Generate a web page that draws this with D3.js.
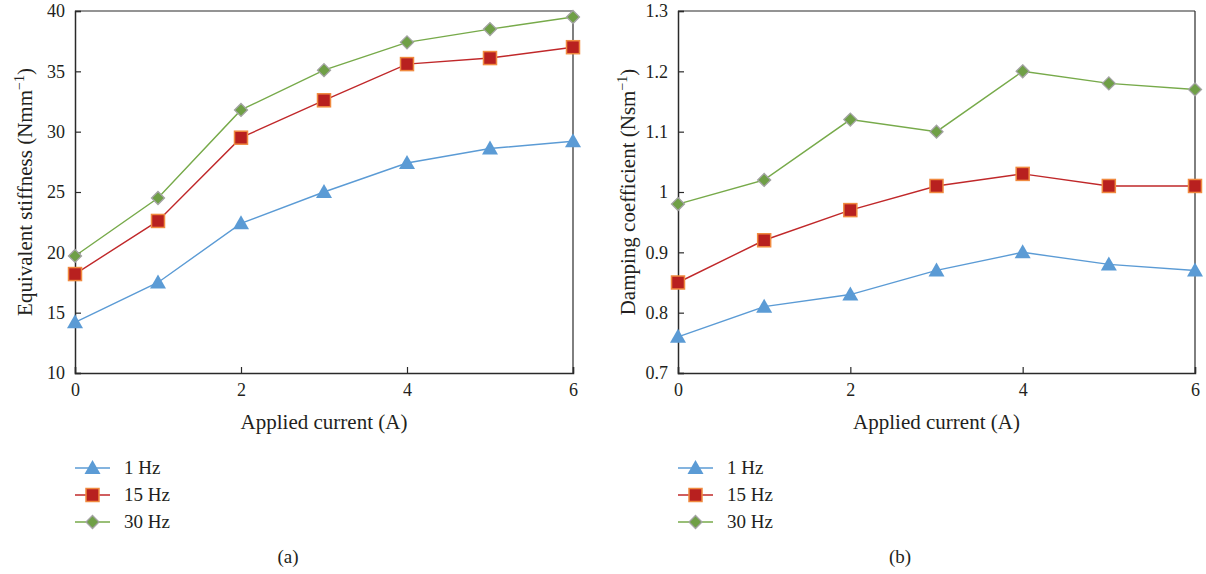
<!DOCTYPE html>
<html>
<head>
<meta charset="utf-8">
<script src="https://cdn.jsdelivr.net/npm/d3@7"></script>
<style>
  body { margin: 0; background: #fff; }
  svg text { font-family: "Liberation Serif", "DejaVu Serif", serif; fill: #231f20; }
</style>
</head>
<body>
<svg id="chart" width="1206" height="574"></svg>
<script>
// Applied current (A)
const currents = [0, 1, 2, 3, 4, 5, 6];
const seriesNames = ["1 Hz", "15 Hz", "30 Hz"];

// Equivalent stiffness (N/mm)
const stiffness1Hz  = [14.2, 17.5, 22.4, 25.0, 27.4, 28.6, 29.2];
const stiffness15Hz = [18.2, 22.6, 29.5, 32.6, 35.6, 36.1, 37.0];
const stiffness30Hz = [19.7, 24.5, 31.8, 35.1, 37.4, 38.5, 39.5];

// Damping coefficient (Ns/m)
const damping1Hz  = [0.76, 0.81, 0.83, 0.87, 0.90, 0.88, 0.87];
const damping15Hz = [0.85, 0.92, 0.97, 1.01, 1.03, 1.01, 1.01];
const damping30Hz = [0.98, 1.02, 1.12, 1.10, 1.20, 1.18, 1.17];

const xTicks = [0, 2, 4, 6];
const stiffnessTicks = [10, 15, 20, 25, 30, 35, 40];
const dampingTicks = [0.7, 0.8, 0.9, 1.0, 1.1, 1.2, 1.3];

const styles = [
  { line: "#5b9bd5", fill: "#5b9bd5", stroke: "#5b9bd5", shape: "triangle" },
  { line: "#c0282a", fill: "#b8201f", stroke: "#f08a40", shape: "square" },
  { line: "#77aa4a", fill: "#6f9f46", stroke: "#a3a3a3", shape: "diamond" }
];

const svg = d3.select("#chart");

function marker(g, shape, st, cx, cy) {
  if (shape === "triangle") {
    g.append("path")
      .attr("d", `M${cx},${cy - 8} L${cx + 8},${cy + 6} L${cx - 8},${cy + 6} Z`)
      .attr("fill", st.fill);
  } else if (shape === "square") {
    g.append("rect")
      .attr("x", cx - 6.5).attr("y", cy - 6.5)
      .attr("width", 13).attr("height", 13)
      .attr("fill", st.fill).attr("stroke", st.stroke).attr("stroke-width", 1.5);
  } else {
    g.append("path")
      .attr("d", `M${cx},${cy - 6.5} L${cx + 6.5},${cy} L${cx},${cy + 6.5} L${cx - 6.5},${cy} Z`)
      .attr("fill", st.fill).attr("stroke", st.stroke).attr("stroke-width", 1.3);
  }
}

function panel(opts) {
  const { left, right, top, bottom, yDomain, yTicks, yFormat, series, yTitle, panelLabel, legendX, labelX } = opts;
  const x = d3.scaleLinear().domain([0, 6]).range([left, right]);
  const y = d3.scaleLinear().domain(yDomain).range([bottom, top]);
  const g = svg.append("g");

  // frame: top and right edges
  g.append("line").attr("x1", left).attr("x2", right).attr("y1", top).attr("y2", top)
    .attr("stroke", "#2a2a2a").attr("stroke-width", 1.2);
  g.append("line").attr("x1", right).attr("x2", right).attr("y1", top).attr("y2", bottom)
    .attr("stroke", "#2a2a2a").attr("stroke-width", 1.2);

  // left axis with inward ticks
  const yAxis = g.append("g").attr("transform", `translate(${left},0)`)
    .call(d3.axisLeft(y).tickValues(yTicks).tickSize(-6).tickPadding(10).tickFormat(yFormat));
  yAxis.select(".domain").attr("stroke", "#2a2a2a").attr("stroke-width", 1.5);
  yAxis.selectAll(".tick line").attr("stroke", "#2a2a2a").attr("stroke-width", 1.2);
  yAxis.selectAll(".tick text").attr("font-size", 18).attr("font-family", "Liberation Serif").attr("fill", "#231f20");

  // bottom axis with inward ticks
  const xAxis = g.append("g").attr("transform", `translate(0,${bottom})`)
    .call(d3.axisBottom(x).tickValues(xTicks).tickSize(-6).tickPadding(10).tickFormat(d3.format("d")));
  xAxis.select(".domain").attr("stroke", "#2a2a2a").attr("stroke-width", 1.5);
  xAxis.selectAll(".tick line").attr("stroke", "#2a2a2a").attr("stroke-width", 1.2);
  xAxis.selectAll(".tick text").attr("font-size", 18).attr("font-family", "Liberation Serif").attr("fill", "#231f20");

  // axis titles
  g.append("text").attr("x", (left + right) / 2).attr("y", 429)
    .attr("text-anchor", "middle").attr("font-size", 21).text("Applied current (A)");

  const yt = g.append("text")
    .attr("transform", `translate(${left - 43},${(top + bottom) / 2}) rotate(-90)`)
    .attr("text-anchor", "middle").attr("font-size", 21);
  yt.append("tspan").text(yTitle);
  yt.append("tspan").attr("font-size", 14).attr("dy", -8).text("−1");
  yt.append("tspan").attr("dy", 8).text(")");

  // series lines and markers
  const line = d3.line().x((d, i) => x(currents[i])).y(d => y(d));
  series.forEach((vals, k) => {
    const st = styles[k];
    g.append("path").datum(vals).attr("d", line)
      .attr("fill", "none").attr("stroke", st.line).attr("stroke-width", 1.4);
    const mg = g.append("g");
    vals.forEach((v, i) => marker(mg, st.shape, st, x(currents[i]), y(v)));
  });

  // legend
  const lg = g.append("g");
  seriesNames.forEach((name, k) => {
    const st = styles[k];
    const ly = 468 + k * 27;
    lg.append("line").attr("x1", legendX).attr("x2", legendX + 35).attr("y1", ly).attr("y2", ly)
      .attr("stroke", st.line).attr("stroke-width", 1.4);
    marker(lg, st.shape, st, legendX + 17.5, ly);
    lg.append("text").attr("x", legendX + 49).attr("y", ly + 6).attr("font-size", 19).text(name);
  });

  g.append("text").attr("x", labelX).attr("y", 563).attr("text-anchor", "middle")
    .attr("font-size", 19).text(panelLabel);
}

panel({
  left: 75, right: 573, top: 11, bottom: 373,
  yDomain: [10, 40], yTicks: stiffnessTicks, yFormat: d3.format("d"),
  series: [stiffness1Hz, stiffness15Hz, stiffness30Hz],
  yTitle: "Equivalent stiffness (Nmm", panelLabel: "(a)", legendX: 75, labelX: 288
});

panel({
  left: 678, right: 1195, top: 11, bottom: 373,
  yDomain: [0.7, 1.3], yTicks: dampingTicks, yFormat: d => (d === 1 ? "1" : d3.format(".1f")(d)),
  series: [damping1Hz, damping15Hz, damping30Hz],
  yTitle: "Damping coefficient (Nsm", panelLabel: "(b)", legendX: 678, labelX: 900
});
</script>
</body>
</html>
